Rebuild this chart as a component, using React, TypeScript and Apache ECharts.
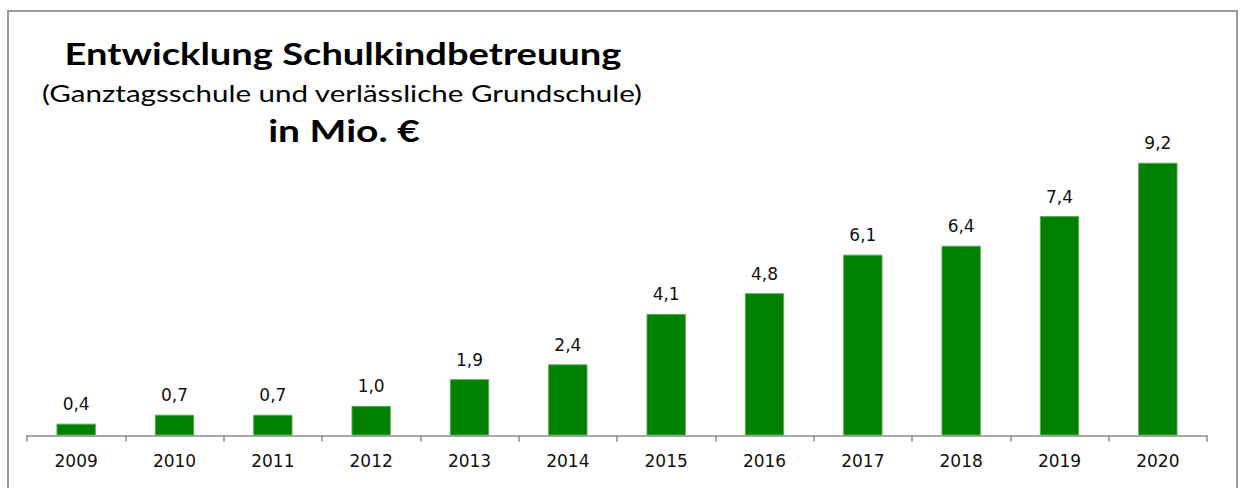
import React, { useEffect, useRef } from "react";
import * as echarts from "echarts";

const years = ["2009", "2010", "2011", "2012", "2013", "2014", "2015", "2016", "2017", "2018", "2019", "2020"];
const values = [0.4, 0.7, 0.7, 1.0, 1.9, 2.4, 4.1, 4.8, 6.1, 6.4, 7.4, 9.2];
const titleLines = ["Entwicklung Schulkindbetreuung", "(Ganztagsschule und verlässliche Grundschule)", "in Mio. €"];

export default function App() {
  const ref = useRef<HTMLDivElement>(null);
  useEffect(() => {
    if (!ref.current) return;
    const chart = echarts.init(ref.current, null, { renderer: "svg" });
    chart.setOption({
      animation: false,
      backgroundColor: "#ffffff",
      grid: { left: 27, right: 35, top: 139, bottom: 52.5 },
      xAxis: {
        type: "category",
        data: years,
        axisLine: { lineStyle: { color: "#8c8c8c", width: 1.5 } },
        axisTick: { show: true, length: 6, lineStyle: { color: "#8c8c8c", width: 1.5 } },
        axisLabel: { color: "#111", fontSize: 17, fontFamily: "DejaVu Sans", margin: 17 },
      },
      yAxis: { type: "value", min: 0, max: 10, show: false, splitLine: { show: false } },
      series: [
        {
          type: "bar",
          data: values,
          barWidth: "40%",
          itemStyle: { color: "#008000", borderColor: "#5aa85a", borderWidth: 1 },
          label: {
            show: true,
            position: "top",
            distance: 11,
            color: "#111",
            fontSize: 17,
            fontFamily: "DejaVu Sans",
            formatter: (p: any) => p.value.toFixed(1).replace(".", ","),
          },
        },
      ],
      graphic: [
        {
          type: "rect",
          shape: { x: 8, y: 11, width: 1229, height: 500 },
          style: { fill: "none", stroke: "#9a9a9a", lineWidth: 2 },
          silent: true,
        },
        {
          type: "text",
          x: 343,
          y: 53,
          scaleX: 1.27,
          style: { text: titleLines[0], font: "bold 30px Lato", fill: "#000", textAlign: "center", textVerticalAlign: "middle" },
        },
        {
          type: "text",
          x: 342,
          y: 93,
          scaleX: 1.23,
          style: { text: titleLines[1], font: "24px Lato", fill: "#000", textAlign: "center", textVerticalAlign: "middle" },
        },
        {
          type: "text",
          x: 344,
          y: 130,
          scaleX: 1.3,
          style: { text: titleLines[2], font: "bold 30px Lato", fill: "#000", textAlign: "center", textVerticalAlign: "middle" },
        },
      ],
    });
    return () => chart.dispose();
  }, []);
  return <div ref={ref} style={{ position: "fixed", left: 0, top: 0, width: 1242, height: 488 }} />;
}
